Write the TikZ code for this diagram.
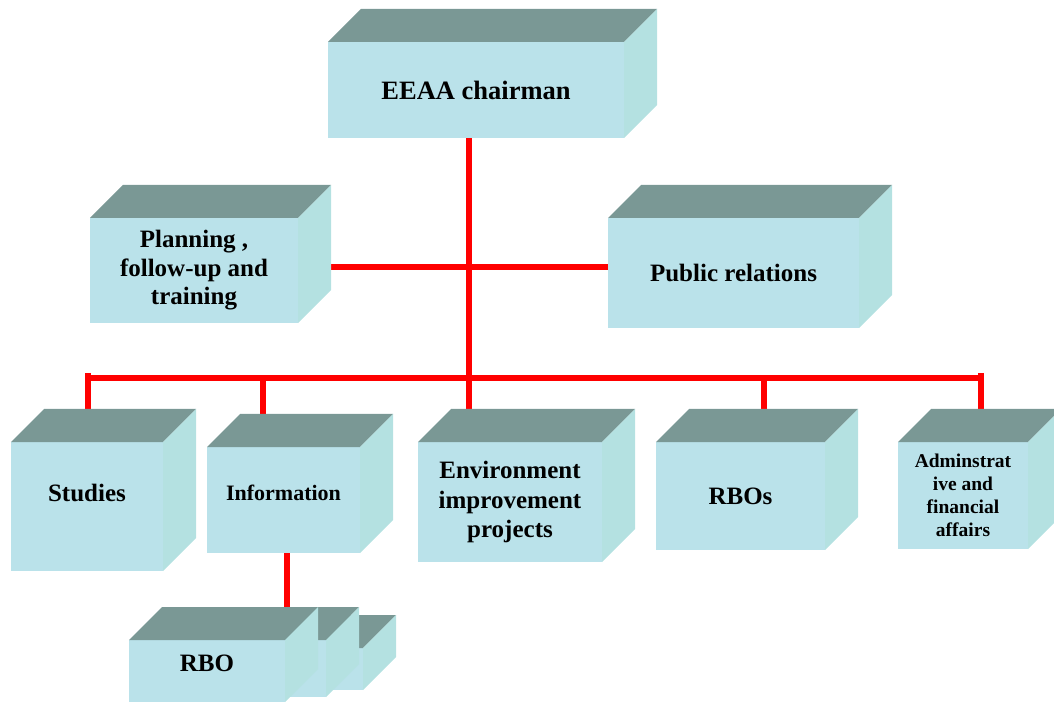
\documentclass[tikz,border=0pt]{standalone}
\usepackage{fontspec}
\setmainfont{Liberation Serif}
\usetikzlibrary{backgrounds}

\definecolor{cubefront}{RGB}{186,226,234}
\definecolor{cubetop}{RGB}{122,152,149}
\definecolor{cubeside}{RGB}{180,225,225}

% top and right faces of a box whose front face is node #1
\newcommand{\cubedepth}{33}
\newcommand{\cubefaces}[1]{%
  \fill[cubetop] (#1.north west) -- ++(\cubedepth,\cubedepth)
    -- ([shift={(\cubedepth,\cubedepth)}]#1.north east) -- (#1.north east) -- cycle;
  \fill[cubeside] (#1.north east) -- ++(\cubedepth,\cubedepth)
    -- ([shift={(\cubedepth,\cubedepth)}]#1.south east) -- (#1.south east) -- cycle;}

\begin{document}
\begin{tikzpicture}[x=1pt, y=1pt,
  cube/.style={fill=cubefront, anchor=north west, inner sep=0pt, outer sep=0pt,
    align=center, font=\bfseries\fontsize{25}{28.5}\selectfont},
  link/.style={draw=red, line width=6pt}]
  \useasboundingbox (0,0) rectangle (1054,702);
  \clip (0,0) rectangle (1054,702);
  \coordinate (trunk) at (469,324);
  \coordinate (mid) at (469,435);
  \coordinate (bar west) at (88,324);
  \coordinate (bar east) at (981,324);
  \coordinate (infodrop) at (263,324);
  \coordinate (rbosdrop) at (764,324);

  \node[cube, minimum width=296, minimum height=96, font=\bfseries\fontsize{26.5}{30}\selectfont] (chair) at (328,660) {EEAA chairman};
  \node[cube, minimum width=208, minimum height=105] (plan) at (90,484) {Planning ,\\follow-up and\\training};
  \node[cube, minimum width=251, minimum height=110] (pr) at (608,484) {Public relations};

  \node[cube, minimum width=152, minimum height=129, text height=17pt, text depth=28pt] (stud) at (11,260) {Studies};
  \node[cube, minimum width=153, minimum height=106, text height=15pt, text depth=14pt, font=\bfseries\fontsize{22}{26}\selectfont] (info) at (207,255) {Information};
  \node[cube, minimum width=184, minimum height=120, font=\bfseries\fontsize{25}{29.5}\selectfont] (env) at (418,260) {Environment\\improvement\\projects};
  \node[cube, minimum width=169, minimum height=108] (rbos) at (656,260) {RBOs};
  \node[cube, minimum width=130, minimum height=107, font=\bfseries\fontsize{19.5}{23}\selectfont] (adm) at (898,260) {Adminstrat\\ive and\\financial\\affairs};

  \foreach \n in {chair,plan,pr,stud,info,env,rbos,adm}
    {\cubefaces{\n}}

  % stacked RBO boxes, back to front
  \node[cube, minimum width=148, minimum height=42] (rboc) at (215,54) {};
  \cubefaces{rboc}
  \node[cube, minimum width=151, minimum height=57] (rbob) at (175,62) {};
  \cubefaces{rbob}
  \node[cube, minimum width=156, minimum height=62, text height=17pt, text depth=16pt] (rboa) at (129,62) {RBO};
  \cubefaces{rboa}

  \begin{pgfonlayer}{background}
    \draw[link] (chair.south -| trunk) -- (trunk |- env.north);
    \draw[link] (plan.east |- mid) -- (mid -| pr.west);
    \draw[link] (bar west) -- (bar east);
    \draw[link] ([yshift=5]bar west) -- (bar west |- stud.north);
    \draw[link] ([yshift=5]bar east) -- (bar east |- adm.north);
    \draw[link] (infodrop) -- (infodrop |- info.north);
    \draw[link] (rbosdrop) -- (rbosdrop |- rbos.north);
    \draw[link] ([xshift=3.5]info.south) -- ([xshift=3.5]info.south |- rboa.north);
  \end{pgfonlayer}
\end{tikzpicture}
\end{document}
